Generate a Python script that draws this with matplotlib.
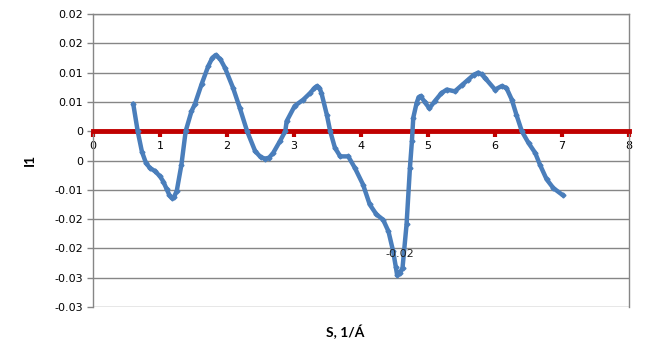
import matplotlib
matplotlib.use("Agg")
import matplotlib.pyplot as plt

# Datos: S (1/A) frente a I1
s_vals = [0.60, 0.667, 0.73, 0.79, 0.85, 0.925, 1.00, 1.05, 1.10, 1.14, 1.175, 1.21, 1.25, 1.32, 1.383,
          1.47, 1.52, 1.62, 1.72, 1.78, 1.83, 1.90, 1.97, 2.09, 2.19, 2.30, 2.42, 2.50,
          2.57, 2.63, 2.69, 2.79, 2.87, 2.89, 3.01, 3.14, 3.24, 3.30, 3.34, 3.38, 3.41,
          3.49, 3.54, 3.61, 3.69, 3.81, 3.91, 4.03, 4.13, 4.23, 4.33,
          4.41, 4.48, 4.52, 4.54, 4.58, 4.62, 4.68, 4.73, 4.76, 4.78, 4.83, 4.86, 4.89,
          4.95, 5.02, 5.10, 5.20, 5.28, 5.40, 5.50, 5.60, 5.68, 5.75, 5.80, 5.85, 6.00,
          6.10, 6.17, 6.25, 6.32, 6.40, 6.50, 6.60, 6.67, 6.77, 6.87, 7.01]
i1_vals = [0.0047, 0.0, -0.0035, -0.0054, -0.0063, -0.0068, -0.0077, -0.0086, -0.0099, -0.0109, -0.0114, -0.0112, -0.0102, -0.0057, 0.0,
           0.0034, 0.0046, 0.0080, 0.0111, 0.0125, 0.0130, 0.0123, 0.0108, 0.0074, 0.0040, 0.0, -0.0034, -0.0044,
           -0.0047, -0.0045, -0.0037, -0.0017, 0.0, 0.0017, 0.0043, 0.0054, 0.0065, 0.0073, 0.0077, 0.0074, 0.0065,
           0.0028, 0.0, -0.0028, -0.0043, -0.0043, -0.0063, -0.0091, -0.0125, -0.0142, -0.0151,
           -0.0171, -0.0205, -0.0232, -0.0246, -0.0242, -0.0233, -0.0159, -0.0063, -0.0017, 0.0023, 0.0048, 0.0058, 0.0060,
           0.0050, 0.0039, 0.0051, 0.0065, 0.0071, 0.0068, 0.0078, 0.0088, 0.0096, 0.0100, 0.0097, 0.0091, 0.0071,
           0.0077, 0.0074, 0.0054, 0.0028, 0.0, -0.0020, -0.0037, -0.0057, -0.0082, -0.0097, -0.0109]

x_ticks = [0, 1, 2, 3, 4, 5, 6, 7, 8]
y_ticks = [0.02, 0.015, 0.01, 0.005, 0.0, -0.005, -0.01, -0.015, -0.02, -0.025, -0.03]
y_labels = ['0.02', '0.02', '0.01', '0.01', '0', '0', '-0.01', '-0.02', '-0.02', '-0.03', '-0.03']
min_label = '-0.02'

gris = '#868686'
azul = '#4A7EBB'
rojo = '#C00000'

fig = plt.figure(figsize=(6.46, 3.62), dpi=100)
ax = fig.add_axes([93/646, 1 - 307/362, 536/646, 293/362])

ax.set_xlim(0, 8)
ax.set_ylim(-0.03, 0.02)

# cuadricula horizontal
for y in y_ticks:
    ax.axhline(y, color=gris, lw=1, zorder=1)

ax.plot(s_vals, i1_vals, color=azul, lw=3.2, marker='D', ms=2.5,
        solid_joinstyle='round', solid_capstyle='round', zorder=4)

# etiqueta del minimo
k = i1_vals.index(min(i1_vals))
ax.annotate(min_label, (s_vals[k], i1_vals[k]), xytext=(2, 12), textcoords='offset points',
            ha='center', va='bottom', fontsize=8, color='#222222', zorder=5)

for lado in ['top', 'right', 'left']:
    ax.spines[lado].set_color(gris)
    ax.spines[lado].set_linewidth(1)
ax.spines['bottom'].set_position(('data', 0))
ax.spines['bottom'].set_color(rojo)
ax.spines['bottom'].set_linewidth(3.5)
ax.spines['bottom'].set_zorder(3)

ax.set_xticks(x_ticks)
ax.set_xticklabels([str(x) for x in x_ticks], fontsize=8)
ax.tick_params(axis='x', direction='out', length=4, width=3, color=rojo, pad=3)
ax.set_yticks(y_ticks)
ax.set_yticklabels(y_labels, fontsize=8)
ax.tick_params(axis='y', direction='out', length=4, width=1, color=gris, pad=3)

fig.text(30/646, 1 - 160/362, 'I1', rotation=90, ha='center', va='center',
         fontsize=10, fontweight='bold', family='Lato')
fig.text(345/646, 1 - 332/362, 'S, 1/Á', ha='center', va='center',
         fontsize=10, fontweight='bold', family='Lato')

plt.savefig('out.png', dpi=100)
